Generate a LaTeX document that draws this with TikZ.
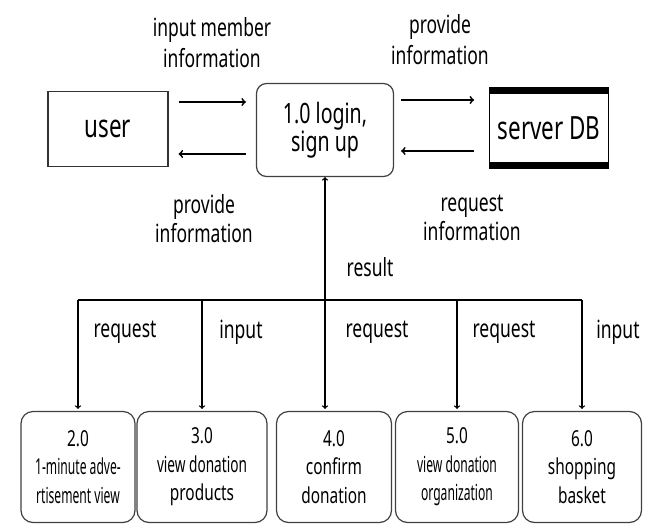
\documentclass[tikz,border=0pt]{standalone}
\usepackage{fontspec}
\setmainfont[FakeStretch=0.7]{Noto Sans}
\newfontfamily\semifont[FakeStretch=0.62]{Noto Sans}
\newfontfamily\narrowfont[FakeStretch=0.55]{Noto Sans}
\usepackage{tikz}
\usetikzlibrary{arrows,positioning}
\tikzset{
    %Define standard arrow tip
    >=to,
    %Define style for boxes
    entity/.style={
           rectangle,
           draw=black!80, line width=1.2pt,
           font=\fontsize{32}{36}\selectfont,
           text centered},
    process/.style={
           rectangle,
           rounded corners=10pt,
           draw=black!75, line width=1.2pt,
           align=center,
           font=\fontsize{28}{28}\selectfont},
    subprocess/.style={
           rectangle,
           rounded corners=12pt,
           draw=black!75, line width=1.2pt,
           align=center,
           minimum height=111pt,
           inner sep=1pt,
           font=\fontsize{22}{28.5}\selectfont},
    flowlabel/.style={
           align=center,
           font=\fontsize{25}{31}\selectfont},
    % Define arrow style
    flow/.style={
           ->,
           line width=1.8pt},
    branch/.style={
           ->,
           line width=1.3pt},
    bus/.style={
           line width=2pt}
}
\begin{document}
\begin{tikzpicture}[x=1pt,y=-1pt]
\useasboundingbox (0,0) rectangle (645,525);
 %nodes
\node[entity, minimum width=120pt, minimum height=75pt] (user) at (108,129) {user};
\node[process, minimum width=137pt, minimum height=93pt] (login) at (325,130) {1.0 login,\\sign up};
\node[entity, draw=black, line width=0.8pt, minimum width=119pt, minimum height=80pt] (db) at (549,128) {server DB};
\draw[line width=7pt] ([yshift=-3pt]db.north west) -- ([yshift=-3pt]db.north east);
\draw[line width=7pt] ([yshift=3pt]db.south west) -- ([yshift=3pt]db.south east);
 %labels of the upper flows
\node[flowlabel] (l1) at (212,43) {input member\\information};
\node[flowlabel] (l2) at (440,40) {provide\\information};
\node[flowlabel, font=\fontsize{25}{29}\selectfont] (l3) at (204,219) {provide\\information};
\node[flowlabel, font=\fontsize{25}{29}\selectfont] (l4) at (472,218) {request\\information};
\node[flowlabel] (l5) at (370,267) {result};
 %sub processes
\node[subprocess, minimum width=114pt] (p2) at (78,467) {2.0\\{\narrowfont 1-minute adve-}\\{\narrowfont rtisement view}};
\node[subprocess, minimum width=130pt] (p3) at (202,467) {3.0\\{\semifont view donation}\\products};
\node[subprocess, minimum width=115pt] (p4) at (334,467) {4.0\\confirm\\donation};
\node[subprocess, minimum width=123pt] (p5) at (457,467) {5.0\\{\narrowfont view donation}\\{\narrowfont organization}};
\node[subprocess, minimum width=119pt] (p6) at (582,467) {6.0\\shopping\\basket};
 %bus
\coordinate (b2) at (p2.north |- 0,300);
\coordinate (b3) at (p3.north |- 0,300);
\coordinate (b4) at (login.south |- 0,300);
\coordinate (b5) at (p5.north |- 0,300);
\coordinate (b6) at (p6.north |- 0,300);
\draw[bus] (b2) -- (b6);
\node[flowlabel] (r2) at (125,332) {request};
\node[flowlabel] (r3) at (241,332) {input};
\node[flowlabel] (r4) at (377,332) {request};
\node[flowlabel] (r5) at (504,332) {request};
\node[flowlabel] (r6) at (618,332) {input};
 %arrows
\draw[flow, shorten <=10pt, shorten >=10pt] ([yshift=27pt]user.east) -- ([yshift=27pt]user.east -| login.west);
\draw[flow, shorten <=10pt, shorten >=10pt] ([yshift=-24pt]login.west) -- ([yshift=-24pt]login.west -| user.east);
\draw[flow, shorten <=7pt, shorten >=15pt] ([yshift=30pt]login.east) -- ([yshift=30pt]login.east -| db.west);
\draw[flow, shorten <=15pt, shorten >=7pt] ([yshift=-23pt]db.west) -- ([yshift=-23pt]db.west -| login.east);
\draw[branch] (b4) -- (login.south);
\path[branch, shorten >=2pt]
    (b2) edge (b2 |- p2.north)
    (b3) edge (b3 |- p3.north)
    (b4) edge (b4 |- p4.north)
    (b5) edge (b5 |- p5.north)
    (b6) edge (b6 |- p6.north);
\end{tikzpicture}
\end{document}
